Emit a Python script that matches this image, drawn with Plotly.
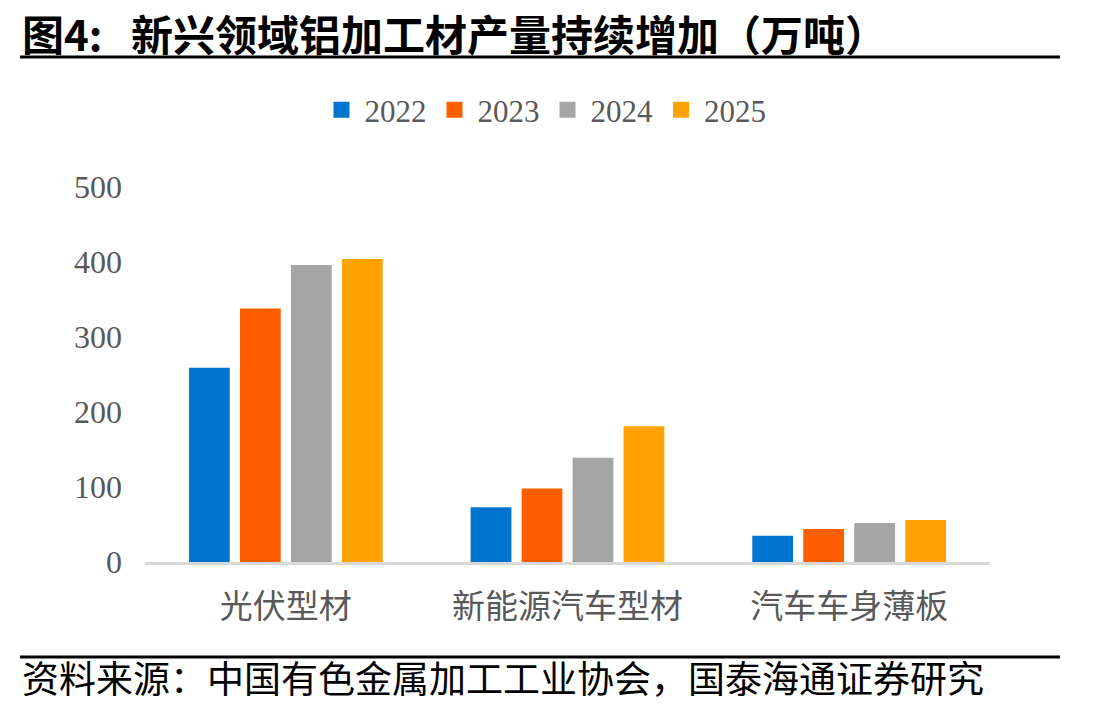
import plotly.graph_objects as go

categories = ["光伏型材", "新能源汽车型材", "汽车车身薄板"]
years = ["2022", "2023", "2024", "2025"]
v2022 = [259, 73, 35]
v2023 = [338, 98, 44]
v2024 = [396, 139, 52]
v2025 = [404, 181, 56]
series = [v2022, v2023, v2024, v2025]
colors = ["#0075D0", "#FF5F00", "#A5A5A5", "#FFA200"]

W, H = 1109, 710
L, R, T, B = 145, 119, 187, 148
PW, PH = W - L - R, H - T - B

def px(x):
    return (x - L) / PW

def py(y):
    return (H - B - y) / PH

fig = go.Figure()
for name, vals, c in zip(years, series, colors):
    fig.add_trace(go.Bar(x=categories, y=vals, name=name, showlegend=False,
                         marker=dict(color=c, line=dict(width=0))))
for name, c in zip(years, colors):
    fig.add_trace(go.Scatter(x=[None], y=[None], mode="markers", name=name,
                             marker=dict(symbol="square", size=16, color=c, line=dict(width=0))))

serif = "Liberation Serif, Times New Roman, serif"
cjk = "Noto Sans CJK SC, sans-serif"

fig.update_layout(
    width=W, height=H,
    margin=dict(l=L, r=R, t=T, b=B),
    paper_bgcolor="white", plot_bgcolor="white",
    barmode="group", bargap=0.276, bargroupgap=0.2,
    showlegend=True,
    legend=dict(orientation="h", x=px(545), xanchor="center", y=py(110), yanchor="middle",
                font=dict(family=serif, size=31, color="#595959"), itemwidth=36,
                traceorder="normal", bgcolor="rgba(0,0,0,0)"),
    xaxis=dict(showline=True, linecolor="#D9D9D9", linewidth=3, showgrid=False, ticks="",
               tickfont=dict(family=cjk, size=33, color="#595959"), ticklabelstandoff=13),
    yaxis=dict(range=[0, 500], tickvals=[0, 100, 200, 300, 400, 500], showgrid=False, showline=False,
               zeroline=False, ticks="", tickfont=dict(family=serif, size=32, color="#595959"),
               ticklabelstandoff=22),
    font=dict(family=serif),
)

fig.add_annotation(text="<b>图4:&nbsp;&nbsp;&nbsp;新兴领域铝加工材产量持续增加（万吨）</b>", xref="paper", yref="paper",
                   x=px(20), y=py(33), xanchor="left", yanchor="middle", showarrow=False,
                   font=dict(family=cjk, size=42, color="black"))
fig.add_annotation(text="资料来源：中国有色金属加工工业协会，国泰海通证券研究", xref="paper", yref="paper",
                   x=px(20), y=py(677), xanchor="left", yanchor="middle", showarrow=False,
                   font=dict(family=cjk, size=37, color="black"))
fig.add_shape(type="line", xref="paper", yref="paper", x0=px(20), x1=px(1060), y0=py(57), y1=py(57),
              line=dict(color="black", width=3))
fig.add_shape(type="line", xref="paper", yref="paper", x0=px(20), x1=px(1060), y0=py(657), y1=py(657),
              line=dict(color="black", width=3))

fig.write_html("out.html")
